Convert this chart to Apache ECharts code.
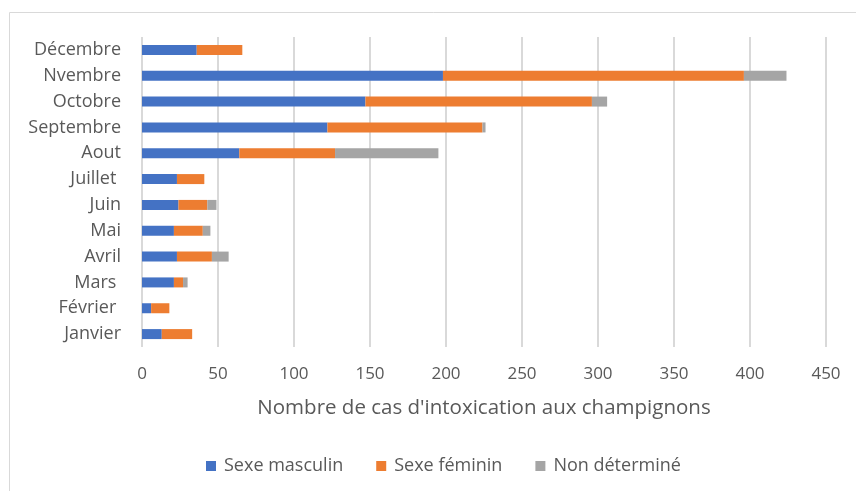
<!DOCTYPE html>
<html>
<head>
<meta charset="utf-8">
<script src="https://cdn.jsdelivr.net/npm/echarts@6/dist/echarts.min.js"></script>
<style>
  html, body { margin: 0; padding: 0; background: #fff; }
  #chart { width: 856px; height: 491px; }
</style>
</head>
<body>
<div id="chart"></div>
<script>
// Mushroom poisoning cases per month, split by sex
const months = ['Janvier', 'Février ', 'Mars ', 'Avril', 'Mai', 'Juin', 'Juillet ', 'Aout', 'Septembre', 'Octobre', 'Nvembre', 'Décembre'];
const male = [13, 6, 21, 23, 21, 24, 23, 64, 122, 147, 198, 36];
const female = [20, 12, 6, 23, 19, 19, 18, 63, 102, 149, 198, 30];
const unknown = [0, 0, 3, 11, 5, 6, 0, 68, 2, 10, 28, 0];
const xTicks = { min: 0, max: 450, interval: 50 };

const labelFont = '"Open Sans", "Noto Sans", sans-serif';
const narrowFont = '"Liberation Sans Narrow", "Open Sans", sans-serif';
const textColor = '#595959';

const chart = echarts.init(document.getElementById('chart'), null, { renderer: 'canvas' });

function barSeries(name, data, color) {
  return {
    name: name,
    type: 'bar',
    stack: 'total',
    data: data,
    barWidth: 10,
    itemStyle: { color: color },
    emphasis: { disabled: true }
  };
}

chart.setOption({
  animation: false,
  textStyle: { fontFamily: labelFont },
  graphic: [{
    type: 'rect',
    shape: { x: 9.5, y: 12.5, width: 900, height: 600 },
    style: { fill: 'none', stroke: '#d9d9d9', lineWidth: 1 },
    silent: true
  }],
  grid: { left: 142, right: 30, top: 37, bottom: 144, containLabel: false },
  xAxis: {
    type: 'value',
    min: xTicks.min,
    max: xTicks.max,
    interval: xTicks.interval,
    axisLine: { show: false },
    axisTick: { show: false },
    splitLine: { show: true, lineStyle: { color: '#d9d9d9', width: 2 } },
    axisLabel: { color: textColor, fontSize: 17, fontFamily: narrowFont, margin: 19 },
    name: "Nombre de cas d'intoxication aux champignons",
    nameLocation: 'middle',
    nameGap: 51,
    nameTextStyle: { color: textColor, fontSize: 20.5, fontFamily: narrowFont }
  },
  yAxis: {
    type: 'category',
    data: months,
    axisLine: { show: false },
    axisTick: { show: false },
    splitLine: { show: false },
    axisLabel: { color: textColor, fontSize: 18, fontFamily: labelFont, margin: 21, padding: [0, 0, 3, 0] }
  },
  legend: {
    bottom: 16,
    left: 206,
    padding: 0,
    itemWidth: 10,
    itemHeight: 10,
    itemGap: 33,
    icon: 'rect',
    textStyle: { color: textColor, fontSize: 18, fontFamily: labelFont, padding: [0, 0, 0, 3] },
    data: ['Sexe masculin', 'Sexe féminin', 'Non déterminé']
  },
  series: [
    barSeries('Sexe masculin', male, '#4472C4'),
    barSeries('Sexe féminin', female, '#ED7D31'),
    barSeries('Non déterminé', unknown, '#A5A5A5')
  ]
});
</script>
</body>
</html>
